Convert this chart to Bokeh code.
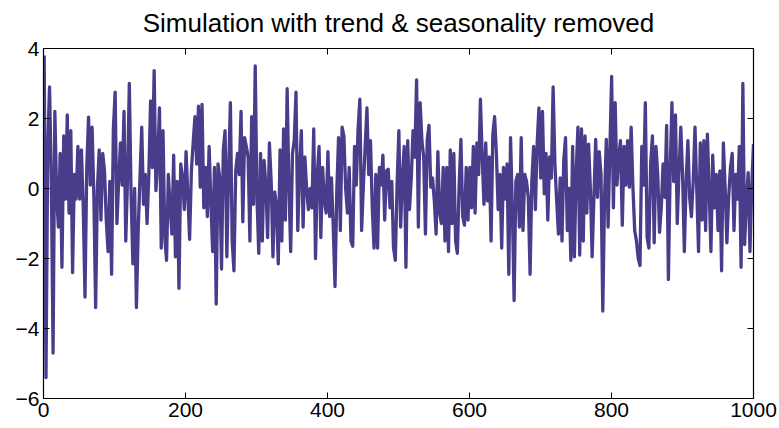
import numpy as np
from bokeh.plotting import figure
from bokeh.models import LinearAxis, FixedTicker, CustomLabelingPolicy
from bokeh.embed import file_html
from bokeh.resources import INLINE

title_text = "Simulation with trend & seasonality removed"
x_ticks = [0, 200, 400, 600, 800, 1000]
y_ticks = [-6, -4, -2, 0, 2, 4]
y_tick_labels = {-6: "\u22126", -4: "\u22124", -2: "\u22122", 0: "0", 2: "2", 4: "4"}

# residual series (one value every 2.5 time steps)
values = [
    3.8, -5.4, 1.2, 2.9, 0.3, -4.7, 2.2, -0.2,
    -1.1, 1.0, -2.25, 1.5, -0.3, 2.1, -0.7, 1.65,
    -2.4, 0.4, -0.3, 1.2, -0.3, 1.1, -0.5, -3.1,
    0.6, 2.04, 0.1, 1.75, -0.2, -3.4, 0.0, 1.1,
    -0.9, 1.0, 0.5, -0.9, -1.8, 0.2, -2.45, 1.7,
    2.75, -1.0, 0.2, 1.3, 0.1, 2.2, -1.5, 0.3,
    3.0, -0.2, -2.15, 0.0, -3.4, -1.2, 0.3, 1.75,
    -0.45, 0.4, -1.0, 0.4, 2.5, 0.6, 3.37, -0.06,
    0.8, 2.3, -1.7, 1.65, -1.4, -2.05, 0.4, -0.5,
    -1.3, 0.95, -1.95, 0.2, -2.85, 0.7, 0.3, -0.6,
    1.05, -0.2, -1.45, 0.5, 1.3, 2.05, 0.7, 2.35,
    0.04, 2.4, -0.55, 0.6, -0.8, 1.2, -0.4, -1.8,
    0.6, -3.3, 0.7, 0.3, -2.3, 1.1, 1.65, -1.95,
    0.5, 2.45, -1.5, -2.35, 0.5, 1.0, 0.4, 2.2,
    -0.95, 1.45, 1.2, 0.9, -1.5, 2.05, -0.45, 3.5,
    -0.3, -1.85, 1.0, -1.5, 0.8, 0.1, -1.4, 1.3,
    0.2, -1.95, -0.1, -0.5, -2.15, 1.1, -1.5, 1.7,
    -0.9, 2.85, 0.1, -1.8, 1.0, 1.37, 2.75, -1.2,
    0.5, 1.65, -1.1, 0.9, 0.0, -0.6, 0.0, -0.55,
    1.7, -2.0, 0.4, 1.2, -1.4, 0.6, -0.35, -0.7,
    1.05, -0.8, 0.3, -1.1, -2.8, -0.06, 1.45, -1.2,
    1.75, 1.5, 0.0, -0.7, 0.6, -1.5, -1.65, 1.2,
    0.1, 1.7, 2.55, -1.2, 0.1, 1.2, 2.3, 0.4,
    1.37, -0.55, -1.7, 0.4, -1.7, 0.6, 0.1, 0.95,
    -0.9, 0.5, 0.55, -0.55, 0.2, -1.7, -2.05, 0.1,
    1.65, -1.1, 0.3, 1.2, -2.25, 1.37, -0.6, 0.3,
    1.65, 0.9, 3.1, -1.1, 2.45, 1.37, 0.9, -1.3,
    1.4, 1.8, 0.04, 0.3, -0.35, -1.3, 1.05, -0.7,
    -1.0, 0.6, -1.5, 0.6, -1.8, 1.1, -1.0, 1.0,
    -1.5, -1.85, 0.1, 1.4, -0.8, -1.05, 0.6, -0.9,
    0.6, -0.55, 1.2, -0.7, 1.3, 0.4, 2.55, 0.9,
    -0.45, 1.3, -0.35, 0.9, -1.5, 1.55, 2.05, 1.0,
    -0.6, 0.4, -1.7, 0.6, -0.3, 0.7, -2.45, 1.45,
    -0.55, -3.2, 0.2, 0.4, -1.1, 1.45, -1.2, 0.4,
    0.2, -0.25, -2.45, 0.2, 1.2, -0.6, 1.3, 2.3,
    0.3, 2.2, -0.15, 1.0, -0.9, 0.9, 0.3, 2.9,
    0.7, -0.35, -1.3, 0.3, -1.5, 0.8, 1.45, -1.2,
    0.0, -2.05, 1.2, -1.95, 0.5, 1.75, -1.9, 1.7,
    -1.5, 1.5, -0.7, 1.27, 0.0, -1.95, -0.25, 1.4,
    -0.25, 1.05, 0.4, -3.5, -0.25, 1.4, -1.1, 1.1,
    3.2, -0.55, 2.45, 0.1, 0.9, 1.37, -1.05, 1.2,
    0.1, 1.37, 0.04, 1.75, 0.04, -1.2, -1.5, -2.0,
    -2.2, 1.2, 0.1, 2.45, -1.4, -1.7, 0.7, 1.5,
    -1.55, 1.2, 0.4, -1.25, -0.55, 0.7, -0.25, 1.8,
    -2.6, 0.5, 2.45, 0.2, 2.1, -1.0, 0.5, 1.75,
    0.4, -1.8, 0.2, 1.37, -0.25, -0.8, 0.2, 1.75,
    0.0, -1.8, 1.3, -0.9, 1.37, -1.2, 1.55, 0.0,
    -1.8, 0.95, -0.55, 0.4, -1.2, 0.5, -2.35, 1.3,
    0.04, -1.55, -0.25, 0.6, 1.0, -1.2, 0.4, -0.3,
    1.2, -2.25, 3.0, -1.6, -0.35, 0.45, -1.8, 0.04,
    1.27,
]
time = np.linspace(1, 1000, len(values))

FONT = "Liberation Sans"
LINE_COLOR = "#483D8B"

p = figure(width=779, height=428, x_range=(0, 1000), y_range=(-6, 4),
           output_backend="svg", toolbar_location=None,
           min_border_left=43, min_border_right=26,
           min_border_top=48, min_border_bottom=30,
           background_fill_color="white", border_fill_color="white")

p.title.text = title_text
p.title.align = "center"
p.title.text_font = FONT
p.title.text_font_size = "26px"
p.title.text_font_style = "normal"
p.title.text_color = "black"
p.title.standoff = 0

p.line(time, values, line_color=LINE_COLOR, line_width=3.3, line_join="round")

p.xgrid.visible = False
p.ygrid.visible = False
p.outline_line_color = "black"
p.outline_line_width = 1.2
p.outline_line_alpha = 1.0

for ax in (p.xaxis[0], p.yaxis[0]):
    ax.major_tick_in = 6
    ax.major_tick_out = 0
    ax.minor_tick_line_color = None
    ax.axis_line_color = "black"
    ax.major_tick_line_color = "black"
    ax.major_label_text_font = FONT
    ax.major_label_text_font_size = "21px"
    ax.major_label_text_color = "black"
    ax.major_label_standoff = 4

p.xaxis[0].ticker = FixedTicker(ticks=x_ticks)
p.yaxis[0].ticker = FixedTicker(ticks=y_ticks)
p.yaxis[0].major_label_overrides = y_tick_labels

hide_all = "for (const i of indices) indices.unset(i)"
top_axis = LinearAxis(ticker=FixedTicker(ticks=x_ticks), major_tick_in=6, major_tick_out=0,
                      minor_tick_line_color=None, major_label_standoff=0,
                      major_label_policy=CustomLabelingPolicy(code=hide_all),
                      axis_line_color="black")
right_axis = LinearAxis(ticker=FixedTicker(ticks=y_ticks), major_tick_in=6, major_tick_out=0,
                        minor_tick_line_color=None, major_label_standoff=0,
                        major_label_policy=CustomLabelingPolicy(code=hide_all),
                        axis_line_color="black")
p.add_layout(top_axis, "above")
p.add_layout(right_axis, "right")

open("out.html", "w").write(file_html(p, INLINE))
